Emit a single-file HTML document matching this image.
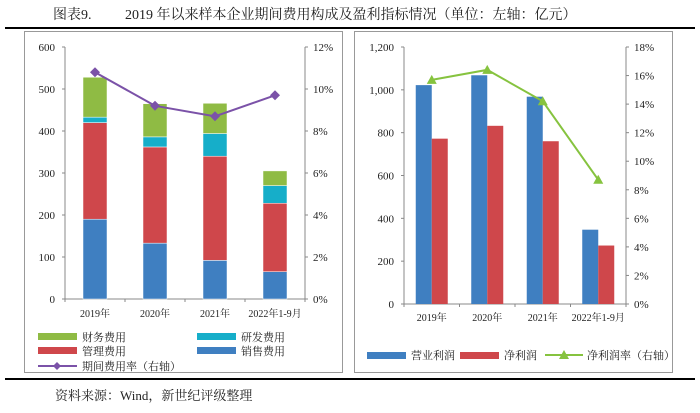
<!DOCTYPE html>
<html><head><meta charset="utf-8">
<style>
body{margin:0;background:#fff;width:700px;height:408px;overflow:hidden;font-family:"Liberation Serif","Noto Serif CJK SC",serif;}
svg text{font-family:"Liberation Serif","Noto Serif CJK SC",serif;}
</style></head>
<body>
<svg id="s" width="700" height="408" xmlns="http://www.w3.org/2000/svg">
<text x="53" y="19" font-size="14" fill="#222">图表9.</text>
<text x="125" y="19" font-size="14" fill="#222">2019 年以来样本企业期间费用构成及盈利指标情况（单位：左轴：亿元）</text>
<line x1="5" y1="28" x2="695" y2="28" stroke="#000" stroke-width="2"/>
<rect x="24.5" y="31.5" width="318" height="341" fill="none" stroke="#999"/>
<rect x="354.5" y="31.5" width="318" height="341" fill="none" stroke="#999"/>
<line x1="5" y1="379" x2="695" y2="379" stroke="#000" stroke-width="2"/>
<text x="55" y="400" font-size="13" fill="#222">资料来源：Wind，新世纪评级整理</text>
<g id="L"></g><g id="R"></g>
</svg>
<script>
const cats=["2019年","2020年","2021年","2022年1-9月"];
const sales=[190,133,92,65];
const mgmt=[230,229,248,163];
const rnd=[13,24,54,42];
const fin=[95,79,72,35];
const expRate=[10.8,9.2,8.7,9.7];
const leftTicks=[0,100,200,300,400,500,600];
const leftPct=[0,2,4,6,8,10,12];
const opProfit=[1022,1068,968,347];
const netProfit=[772,832,760,273];
const netMargin=[15.7,16.4,14.2,8.7];
const rightTicks=[0,200,400,600,800,1000,1200];
const rightPct=[0,2,4,6,8,10,12,14,16,18];

const NS="http://www.w3.org/2000/svg";
function mk(p,t,a,txt){const e=document.createElementNS(NS,t);for(const k in a)e.setAttribute(k,a[k]);if(txt!=null)e.textContent=txt;p.appendChild(e);return e;}
const BLUE="#3f7fc1",RED="#cf474b",CYAN="#16aec9",GREEN="#8fbb44",PURP="#7b52a8",LGREEN="#86c33f";

// LEFT
const L=document.getElementById('L');
const lx0=65,lx1=305,ly0=299,ly1=47;
const yL=v=>ly0-(v/600)*(ly0-ly1);
const yLr=v=>ly0-(v/12)*(ly0-ly1);
const band=(lx1-lx0)/cats.length;
const xL=i=>lx0+band*(i+0.5);
let ax=mk(L,'line',{x1:lx0,y1:ly1,x2:lx0,y2:ly0,stroke:'#888'});
let ax2=mk(L,'line',{x1:lx1,y1:ly1,x2:lx1,y2:ly0,stroke:'#888'});
let ax3=mk(L,'line',{x1:lx0,y1:ly0,x2:lx1,y2:ly0,stroke:'#888'});
leftTicks.forEach(v=>{const y=yL(v);mk(L,'line',{x1:lx0-3,y1:y,x2:lx0,y2:y,stroke:'#888'});
 const t=mk(L,'text',{x:lx0-10,y:y+4,'font-size':11,'text-anchor':'end',fill:'#222'},v);
 });
leftPct.forEach(v=>{const y=yLr(v);mk(L,'line',{x1:lx1,y1:y,x2:lx1+3,y2:y,stroke:'#888'});
 const t=mk(L,'text',{x:lx1+8,y:y+4,'font-size':11,fill:'#222'},v+'%');
 });
for(let i=0;i<=cats.length;i++)mk(L,'line',{x1:lx0+band*i,y1:ly0,x2:lx0+band*i,y2:ly0+3,stroke:'#888'});
cats.forEach((c,i)=>{const t=mk(L,'text',{x:xL(i),y:ly0+18,'font-size':10,'text-anchor':'middle',fill:'#222'},c);
 
 let base=0;[[sales,BLUE,'sales'],[mgmt,RED,'mgmt'],[rnd,CYAN,'rnd'],[fin,GREEN,'fin']].forEach(([arr,col,n])=>{
  const r=mk(L,'rect',{x:xL(i)-12,y:yL(base+arr[i]),width:24,height:yL(base)-yL(base+arr[i]),fill:col,stroke:'#fff','stroke-width':0.5});
  base+=arr[i];});
});
let pts=expRate.map((v,i)=>xL(i)+','+yLr(v)).join(' ');
let pl=mk(L,'polyline',{points:pts,fill:'none',stroke:PURP,'stroke-width':2});
expRate.forEach((v,i)=>{const x=xL(i),y=yLr(v);const d=mk(L,'polygon',{points:`${x},${y-5} ${x+5},${y} ${x},${y+5} ${x-5},${y}`,fill:PURP});
 });
// left legend
[[38,337,GREEN,'财务费用'],[197,337,CYAN,'研发费用'],[38,351,RED,'管理费用'],[197,351,BLUE,'销售费用']].forEach(([x,y,c,t])=>{
 const g=mk(L,'g',{});
 mk(g,'rect',{x:x,y:y-4,width:39,height:7,fill:c});mk(g,'text',{x:x+44,y:y+4,'font-size':11,fill:'#222'},t);});
{const g=mk(L,'g',{});
 mk(g,'line',{x1:38,y1:366,x2:77,y2:366,stroke:PURP,'stroke-width':2});mk(g,'polygon',{points:'57,362 61,366 57,370 53,366',fill:PURP});
 mk(g,'text',{x:82,y:370,'font-size':11,fill:'#222'},'期间费用率（右轴）');}

// RIGHT
const R=document.getElementById('R');
const rx0=404,rx1=626,ry0=304,ry1=47;
const yR=v=>ry0-(v/1200)*(ry0-ry1);
const yRr=v=>ry0-(v/18)*(ry0-ry1);
const bandR=(rx1-rx0)/cats.length;
const xR=i=>rx0+bandR*(i+0.5);
let b1=mk(R,'line',{x1:rx0,y1:ry1,x2:rx0,y2:ry0,stroke:'#888'});
let b2=mk(R,'line',{x1:rx1,y1:ry1,x2:rx1,y2:ry0,stroke:'#888'});
let b3=mk(R,'line',{x1:rx0,y1:ry0,x2:rx1,y2:ry0,stroke:'#888'});
rightTicks.forEach(v=>{const y=yR(v);mk(R,'line',{x1:rx0-3,y1:y,x2:rx0,y2:y,stroke:'#888'});
 const t=mk(R,'text',{x:rx0-10,y:y+4,'font-size':11,'text-anchor':'end',fill:'#222'},v.toLocaleString('en-US'));
 });
rightPct.forEach(v=>{const y=yRr(v);mk(R,'line',{x1:rx1,y1:y,x2:rx1+3,y2:y,stroke:'#888'});
 const t=mk(R,'text',{x:rx1+8,y:y+4,'font-size':11,fill:'#222'},v+'%');
 });
for(let i=0;i<=cats.length;i++)mk(R,'line',{x1:rx0+bandR*i,y1:ry0,x2:rx0+bandR*i,y2:ry0+3,stroke:'#888'});
cats.forEach((c,i)=>{const t=mk(R,'text',{x:xR(i),y:ry0+17,'font-size':10,'text-anchor':'middle',fill:'#222'},c);
 
 const r1=mk(R,'rect',{x:xR(i)-16,y:yR(opProfit[i]),width:16,height:ry0-yR(opProfit[i]),fill:BLUE});
 
 const r2=mk(R,'rect',{x:xR(i),y:yR(netProfit[i]),width:16,height:ry0-yR(netProfit[i]),fill:RED});
 
});
let pts2=netMargin.map((v,i)=>xR(i)+','+yRr(v)).join(' ');
let pl2=mk(R,'polyline',{points:pts2,fill:'none',stroke:LGREEN,'stroke-width':2});
netMargin.forEach((v,i)=>{const x=xR(i),y=yRr(v);const d=mk(R,'polygon',{points:`${x},${y-5} ${x+5},${y+4} ${x-5},${y+4}`,fill:LGREEN});
 });
[[367,BLUE,'营业利润'],[460,RED,'净利润']].forEach(([x,c,t])=>{
 const g=mk(R,'g',{});
 mk(g,'rect',{x:x,y:352,width:39,height:7,fill:c});mk(g,'text',{x:x+44,y:359,'font-size':11,fill:'#222'},t);});
{const g=mk(R,'g',{});
 mk(g,'line',{x1:545,y1:355,x2:583,y2:355,stroke:LGREEN,'stroke-width':2});mk(g,'polygon',{points:'564,350 569,359 559,359',fill:LGREEN});
 mk(g,'text',{x:587,y:359,'font-size':11,fill:'#222'},'净利润率（右轴）');}
</script>
</body></html>
